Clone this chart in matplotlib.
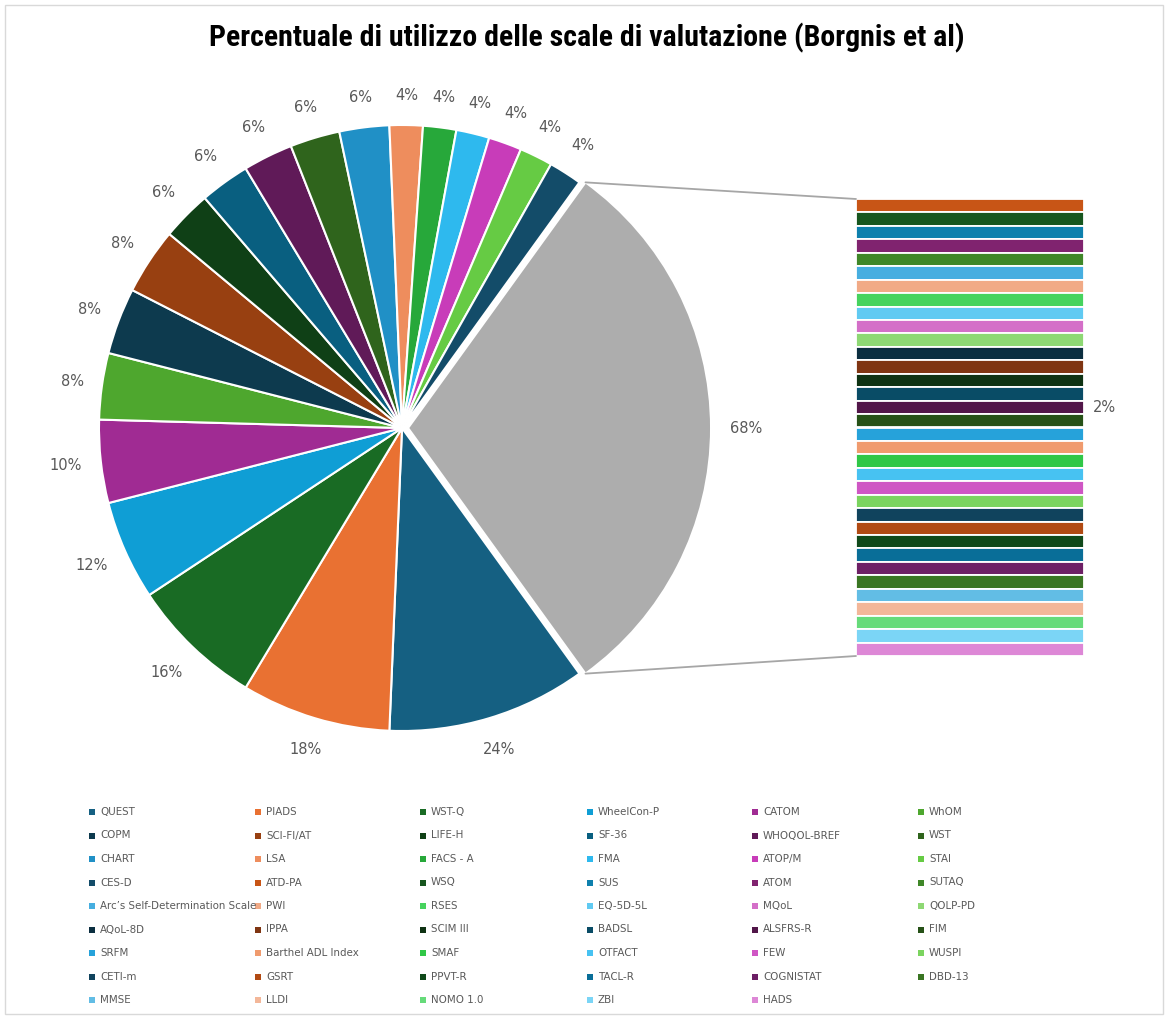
import matplotlib.pyplot as plt
from matplotlib.patches import ConnectionPatch, Rectangle
from matplotlib import font_manager
import numpy as np

plt.switch_backend('Agg')

# scale names (legend order, row by row)
scales = ["QUEST", "PIADS", "WST-Q", "WheelCon-P", "CATOM", "WhOM",
          "COPM", "SCI-FI/AT", "LIFE-H", "SF-36", "WHOQOL-BREF", "WST",
          "CHART", "LSA", "FACS - A", "FMA", "ATOP/M", "STAI",
          "CES-D", "ATD-PA", "WSQ", "SUS", "ATOM", "SUTAQ",
          "Arc\u2019s Self-Determination Scale", "PWI", "RSES", "EQ-5D-5L", "MQoL", "QOLP-PD",
          "AQoL-8D", "IPPA", "SCIM III", "BADSL", "ALSFRS-R", "FIM",
          "SRFM", "Barthel ADL Index", "SMAF", "OTFACT", "FEW", "WUSPI",
          "CETI-m", "GSRT", "PPVT-R", "TACL-R", "COGNISTAT", "DBD-13",
          "MMSE", "LLDI", "NOMO 1.0", "ZBI", "HADS"]

# percentage of studies using each scale
usage = [24, 18, 16, 12, 10, 8,
         8, 8, 6, 6, 6, 6,
         6, 4, 4, 4, 4, 4,
         4, 2, 2, 2, 2, 2,
         2, 2, 2, 2, 2, 2,
         2, 2, 2, 2, 2, 2,
         2, 2, 2, 2, 2, 2,
         2, 2, 2, 2, 2, 2,
         2, 2, 2, 2, 2]

colors = ["#156082", "#E97132", "#196B24", "#0F9ED5", "#A02B93", "#4EA72E",
          "#0D3A4E", "#984011", "#0F4016", "#095F80", "#601A58", "#2F641C",
          "#2090C6", "#EE8D5D", "#27A83A", "#2EB9EE", "#C83CB9", "#66CB44",
          "#134C69", "#C85516", "#17561E", "#0E80AD", "#80236F", "#3F8728",
          "#46AEE0", "#F1AA86", "#46D35E", "#60CAF2", "#D46FC8", "#8ED874",
          "#0B2E40", "#7F3512", "#0E3213", "#094C66", "#521649", "#265117",
          "#26A2DA", "#F09B6E", "#30C747", "#47C2F2", "#CF56C4", "#7BD45F",
          "#10435D", "#B14A13", "#10491A", "#096E98", "#6D1F65", "#397522",
          "#62BDE5", "#F3B799", "#66DB7A", "#7BD5F6", "#DD87D6"]

n_pie = 19  # first 19 scales in the pie, the rest go into the bar
other_color = "#ADADAD"
text_col = "#595959"

pie_vals = usage[:n_pie] + [sum(usage[n_pie:])]
pie_cols = colors[:n_pie] + [other_color]
bar_vals = usage[n_pie:]
bar_cols = colors[n_pie:]
total = sum(pie_vals)

W, H = 1168, 1019
fig = plt.figure(figsize=(W / 100, H / 100), dpi=100)
fig.patch.set_facecolor('white')

# ---- pie ----
R = 303.0
cx, cy = 402, 428
half = 380
ax1 = fig.add_axes([(cx - half) / W, (H - cy - half) / H, 2 * half / W, 2 * half / H])
explode = [0] * n_pie + [0.02]
start = -pie_vals[-1] / total * 180
wedges, _, autotexts = ax1.pie(pie_vals, colors=pie_cols, explode=explode,
                               startangle=start, counterclock=False,
                               autopct=lambda p: f"{p * total / 100:.0f}%",
                               pctdistance=1.13,
                               wedgeprops=dict(edgecolor='white', linewidth=1.5),
                               textprops=dict(color=text_col, fontsize=10.5))
lim = half / R
ax1.set_xlim(-lim, lim)
ax1.set_ylim(-lim, lim)
ax1.set_aspect('equal')
ax1.axis('off')

# put each label just outside the edge, like "outside end" labels
gap = 22 / R
for w, t in zip(wedges, autotexts):
    mid = np.radians((w.theta1 + w.theta2) / 2)
    hw = (7 if len(t.get_text()) == 2 else 13) / R
    hh = 7.5 / R
    d = w.r + gap + abs(np.cos(mid)) * hw + abs(np.sin(mid)) * hh
    t.set_position((w.center[0] + d * np.cos(mid), w.center[1] + d * np.sin(mid)))

# ---- bar of the small scales ----
bt, bb, bl, br = 199, 656, 856, 1084
ax2 = fig.add_axes([bl / W, (H - bb) / H, (br - bl) / W, (bb - bt) / H])
bottoms = np.concatenate([[0], np.cumsum(bar_vals)[:-1]])
ax2.bar(np.zeros(len(bar_vals)), bar_vals, bottom=bottoms, width=1,
        color=bar_cols, edgecolor='white', linewidth=1.3)
ax2.set_xlim(-0.5, 0.5)
ax2.set_ylim(sum(bar_vals), 0)
ax2.axis('off')
k = scales.index("ALSFRS-R") - n_pie
ax2.text(0.54, bottoms[k] + bar_vals[k] / 2, f"{bar_vals[k]}%", color=text_col,
         fontsize=10.5, va='center', ha='left')

# connector lines
g = wedges[-1]
for ang, yb in [(g.theta1, sum(bar_vals)), (g.theta2, 0)]:
    xa = g.center[0] + g.r * np.cos(np.radians(ang))
    ya = g.center[1] + g.r * np.sin(np.radians(ang))
    con = ConnectionPatch(xyA=(xa, ya), coordsA=ax1.transData,
                          xyB=(-0.5, yb), coordsB=ax2.transData,
                          color="#A6A6A6", linewidth=1.3)
    fig.add_artist(con)

# ---- title ----
names = {f.name for f in font_manager.fontManager.ttflist}
title_fam = 'DejaVu Sans'
for cand in ['Roboto Condensed', 'Liberation Sans Narrow', 'DejaVu Sans Condensed', 'Open Sans Condensed', 'Roboto']:
    if cand in names:
        title_fam = cand
        break
fig.text(0.502, 1 - 38 / H, "Percentuale di utilizzo delle scale di valutazione (Borgnis et al)",
         ha='center', va='center', fontsize=21.5, fontweight='bold', family=title_fam,
         fontstretch='condensed')

# ---- legend (6 columns, row by row) ----
axl = fig.add_axes([0, 0, 1, 1])
axl.set_xlim(0, W)
axl.set_ylim(H, 0)
axl.axis('off')
col_x = [92, 258, 423, 590, 755, 921]
row_y0, row_dy = 812, 23.5
for i, (name, c) in enumerate(zip(scales, colors)):
    r, cidx = divmod(i, 6)
    x, y = col_x[cidx], row_y0 + r * row_dy
    axl.scatter([x], [y], marker='s', s=14, color=c, linewidths=0)
    axl.text(x + 8, y, name, color=text_col, fontsize=7.4, va='center', ha='left')

# chart border
fig.add_artist(Rectangle((5 / W, 5 / H), 1 - 10 / W, 1 - 10 / H, transform=fig.transFigure,
                         fill=False, edgecolor="#D9D9D9", linewidth=1))

plt.savefig('out.png', dpi=100)
